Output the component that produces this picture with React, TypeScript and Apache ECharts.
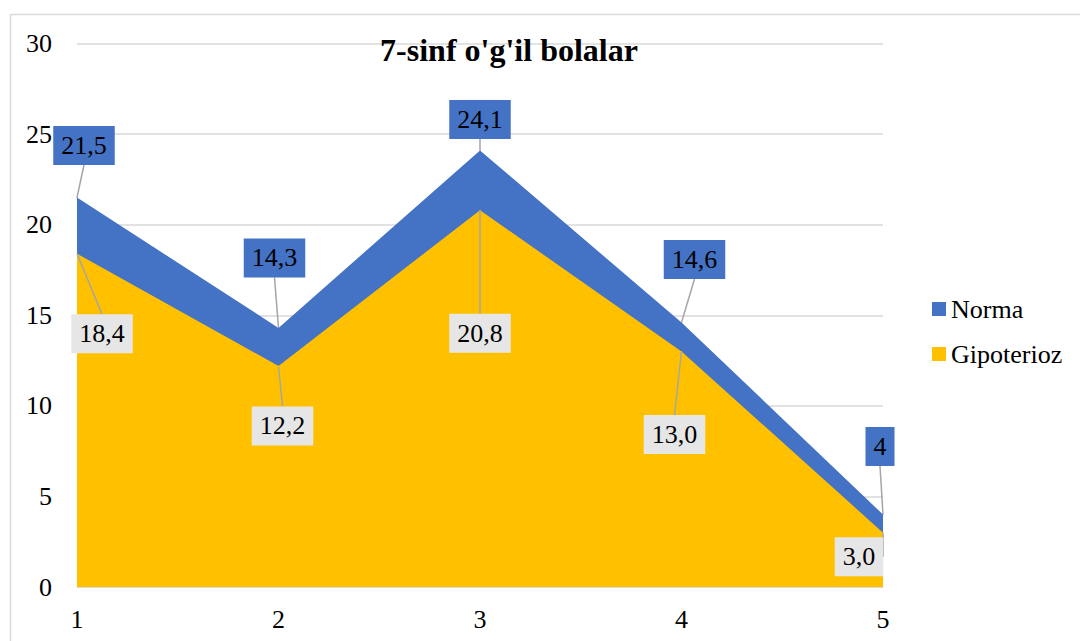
import React, { useEffect, useRef } from "react";
import * as echarts from "echarts";

const categories = ["1", "2", "3", "4", "5"];
const normaValues = [21.5, 14.3, 24.1, 14.6, 4];
const gipoteriozValues = [18.4, 12.2, 20.8, 13.0, 3.0];
const normaLabels = ["21,5", "14,3", "24,1", "14,6", "4"];
const gipoteriozLabels = ["18,4", "12,2", "20,8", "13,0", "3,0"];
const yTicks = [0, 5, 10, 15, 20, 25, 30];

// label offsets (styling only)
const normaOffsets = [[7, -52], [-4, -70], [0, -31], [13, -63], [-3, -68]];
const gipOffsets = [[25, 80], [4, 60], [0, 123], [-7, 83], [-24, 24]];

const FONT = "Liberation Serif";

export default function App() {
  const ref = useRef<HTMLDivElement>(null);
  useEffect(() => {
    if (!ref.current) return;
    const chart = echarts.init(ref.current, null, { renderer: "svg" });
    const labelBase = {
      show: true,
      position: "inside",
      fontFamily: FONT,
      fontSize: 26,
      color: "#000",
      padding: [7, 8, 6, 8],
    };
    chart.setOption({
      animation: false,
      backgroundColor: "#fff",
      textStyle: { fontFamily: FONT },
      title: {
        text: "7-sinf o'g'il bolalar",
        left: 504,
        top: 29,
        textAlign: "center",
        textStyle: { fontFamily: FONT, fontSize: 32, fontWeight: "bold", color: "#000" },
      },
      graphic: [
        {
          type: "rect",
          shape: { x: 10.5, y: 14.5, width: 1200, height: 800 },
          style: { fill: "none", stroke: "#D9D9D9", lineWidth: 1.5 },
          silent: true,
          z: -10,
        },
      ],
      legend: {
        orient: "vertical",
        left: 927,
        top: 291,
        itemWidth: 14,
        itemHeight: 14,
        itemGap: 19,
        icon: "rect",
        textStyle: { fontFamily: FONT, fontSize: 26, color: "#000" },
        data: ["Norma", "Gipoterioz"],
      },
      grid: { left: 77, right: 197, top: 43.5, bottom: 54, containLabel: false },
      xAxis: {
        type: "category",
        data: categories,
        boundaryGap: false,
        axisLine: { show: true, lineStyle: { color: "#D9D9D9", width: 1.5 } },
        axisTick: { show: false },
        axisLabel: { fontFamily: FONT, fontSize: 26, color: "#000", margin: 19 },
        splitLine: { show: false },
      },
      yAxis: {
        type: "value",
        min: yTicks[0],
        max: yTicks[yTicks.length - 1],
        interval: 5,
        axisLine: { show: false },
        axisTick: { show: false },
        axisLabel: { fontFamily: FONT, fontSize: 26, color: "#000", margin: 25 },
        splitLine: { lineStyle: { color: "#D9D9D9", width: 1.5 } },
      },
      series: [
        {
          name: "Norma",
          type: "line",
          data: normaValues,
          symbol: "circle",
          symbolSize: 1,
          showSymbol: true,
          itemStyle: { color: "#4472C4" },
          lineStyle: { width: 0, color: "#4472C4" },
          areaStyle: { color: "#4472C4", opacity: 1 },
          label: {
            ...labelBase,
            backgroundColor: "#4472C4",
            formatter: (p: any) => normaLabels[p.dataIndex],
          },
          labelLine: { show: true, lineStyle: { color: "#A6A6A6", width: 1.5 } },
          labelLayout: (p: any) => ({ dx: normaOffsets[p.dataIndex][0], dy: normaOffsets[p.dataIndex][1] }),
          z: 2,
        },
        {
          name: "Gipoterioz",
          type: "line",
          data: gipoteriozValues,
          symbol: "circle",
          symbolSize: 1,
          showSymbol: true,
          itemStyle: { color: "#FFC000" },
          lineStyle: { width: 0, color: "#FFC000" },
          areaStyle: { color: "#FFC000", opacity: 1 },
          label: {
            ...labelBase,
            backgroundColor: "#E7E6E6",
            formatter: (p: any) => gipoteriozLabels[p.dataIndex],
          },
          labelLine: { show: true, lineStyle: { color: "#A6A6A6", width: 1.5 } },
          labelLayout: (p: any) => ({ dx: gipOffsets[p.dataIndex][0], dy: gipOffsets[p.dataIndex][1] }),
          z: 3,
        },
      ],
    });
    return () => chart.dispose();
  }, []);
  return (
    <div
      ref={ref}
      style={{ position: "fixed", left: 0, top: 0, width: 1080, height: 641 }}
    />
  );
}
